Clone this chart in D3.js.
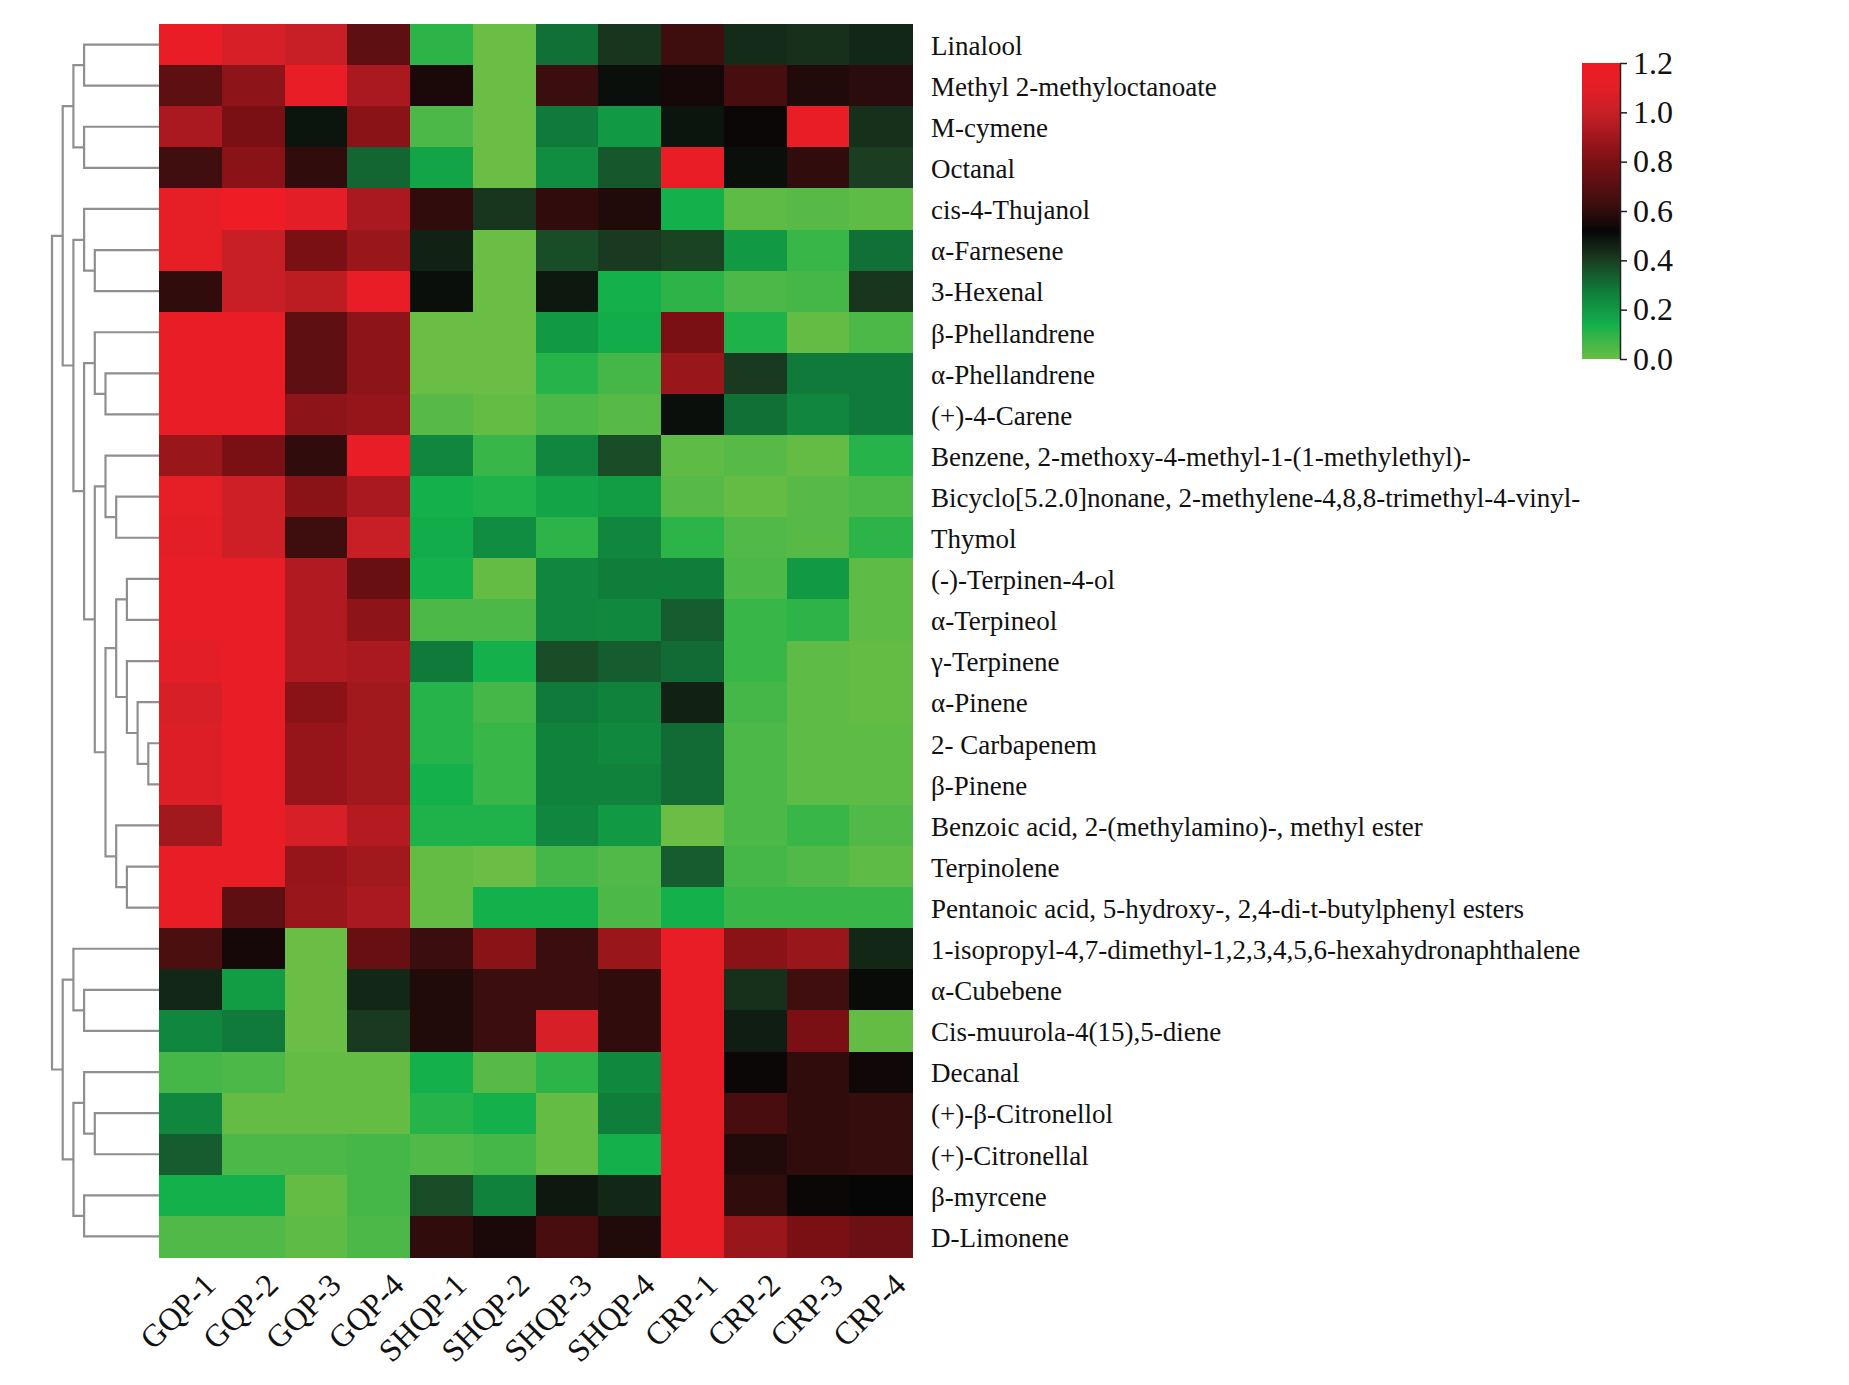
<!DOCTYPE html>
<html>
<head>
<meta charset="utf-8">
<script src="https://cdn.jsdelivr.net/npm/d3@7"></script>
<style>
  body { margin: 0; background: #fff; }
  text { font-family: "Liberation Serif", "Times New Roman", serif; fill: #111; }
</style>
</head>
<body>
<div id="chart"></div>
<script>
// sample columns
var samples = ["GQP-1", "GQP-2", "GQP-3", "GQP-4",
               "SHQP-1", "SHQP-2", "SHQP-3", "SHQP-4",
               "CRP-1", "CRP-2", "CRP-3", "CRP-4"];

// compounds, top to bottom (dendrogram order)
var compounds = ["Linalool", "Methyl 2-methyloctanoate", "M-cymene", "Octanal",
  "cis-4-Thujanol", "\u03b1-Farnesene", "3-Hexenal", "\u03b2-Phellandrene",
  "\u03b1-Phellandrene", "(+)-4-Carene", "Benzene, 2-methoxy-4-methyl-1-(1-methylethyl)-",
  "Bicyclo[5.2.0]nonane, 2-methylene-4,8,8-trimethyl-4-vinyl-", "Thymol",
  "(-)-Terpinen-4-ol", "\u03b1-Terpineol", "\u03b3-Terpinene", "\u03b1-Pinene",
  "2- Carbapenem", "\u03b2-Pinene", "Benzoic acid, 2-(methylamino)-, methyl ester",
  "Terpinolene", "Pentanoic acid, 5-hydroxy-, 2,4-di-t-butylphenyl esters",
  "1-isopropyl-4,7-dimethyl-1,2,3,4,5,6-hexahydronaphthalene", "\u03b1-Cubebene",
  "Cis-muurola-4(15),5-diene", "Decanal", "(+)-\u03b2-Citronellol", "(+)-Citronellal",
  "\u03b2-myrcene", "D-Limonene"];

// normalised content, one row per compound, columns as in samples
var values = [
  [1.15, 1.05, 1.00, 0.72, 0.10, 0.00, 0.30, 0.42, 0.63, 0.44, 0.43, 0.45],
  [0.72, 0.85, 1.15, 0.92, 0.56, 0.00, 0.62, 0.50, 0.55, 0.66, 0.57, 0.59],
  [0.92, 0.80, 0.49, 0.84, 0.05, 0.00, 0.28, 0.20, 0.49, 0.53, 1.15, 0.43],
  [0.64, 0.84, 0.60, 0.32, 0.17, 0.00, 0.23, 0.35, 1.15, 0.50, 0.60, 0.40],
  [1.12, 1.20, 1.10, 0.92, 0.60, 0.42, 0.60, 0.57, 0.14, 0.02, 0.03, 0.02],
  [1.12, 1.00, 0.80, 0.88, 0.46, 0.00, 0.37, 0.41, 0.39, 0.20, 0.08, 0.30],
  [0.60, 1.00, 0.97, 1.15, 0.50, 0.00, 0.48, 0.14, 0.10, 0.05, 0.06, 0.42],
  [1.15, 1.15, 0.72, 0.85, 0.00, 0.00, 0.20, 0.15, 0.80, 0.12, 0.01, 0.05],
  [1.15, 1.15, 0.72, 0.85, 0.00, 0.00, 0.11, 0.06, 0.88, 0.41, 0.28, 0.28],
  [1.15, 1.15, 0.85, 0.87, 0.03, 0.01, 0.05, 0.03, 0.50, 0.30, 0.25, 0.28],
  [0.88, 0.80, 0.60, 1.15, 0.25, 0.08, 0.25, 0.37, 0.02, 0.03, 0.01, 0.11],
  [1.12, 1.02, 0.84, 0.92, 0.14, 0.12, 0.17, 0.19, 0.03, 0.01, 0.03, 0.05],
  [1.10, 1.02, 0.63, 1.00, 0.15, 0.23, 0.10, 0.25, 0.10, 0.04, 0.03, 0.10],
  [1.15, 1.15, 0.94, 0.75, 0.14, 0.01, 0.25, 0.27, 0.27, 0.05, 0.20, 0.02],
  [1.15, 1.15, 0.94, 0.85, 0.05, 0.05, 0.25, 0.24, 0.34, 0.08, 0.10, 0.02],
  [1.10, 1.15, 0.94, 0.92, 0.28, 0.14, 0.37, 0.34, 0.31, 0.08, 0.02, 0.01],
  [1.05, 1.15, 0.84, 0.90, 0.11, 0.06, 0.28, 0.26, 0.46, 0.06, 0.02, 0.01],
  [1.07, 1.15, 0.87, 0.90, 0.11, 0.08, 0.26, 0.24, 0.31, 0.05, 0.02, 0.02],
  [1.07, 1.15, 0.87, 0.90, 0.14, 0.08, 0.26, 0.26, 0.31, 0.05, 0.02, 0.02],
  [0.90, 1.15, 1.05, 0.95, 0.12, 0.12, 0.25, 0.20, 0.00, 0.05, 0.08, 0.04],
  [1.15, 1.15, 0.87, 0.90, 0.01, 0.00, 0.06, 0.04, 0.34, 0.06, 0.04, 0.02],
  [1.15, 0.72, 0.88, 0.92, 0.01, 0.14, 0.14, 0.05, 0.14, 0.08, 0.08, 0.08],
  [0.67, 0.55, 0.00, 0.75, 0.62, 0.84, 0.62, 0.88, 1.15, 0.84, 0.88, 0.45],
  [0.45, 0.19, 0.00, 0.45, 0.57, 0.62, 0.62, 0.60, 1.15, 0.43, 0.64, 0.51],
  [0.25, 0.28, 0.00, 0.41, 0.57, 0.62, 1.05, 0.60, 1.15, 0.47, 0.80, 0.01],
  [0.06, 0.05, 0.01, 0.01, 0.14, 0.03, 0.10, 0.24, 1.15, 0.53, 0.60, 0.54],
  [0.25, 0.01, 0.01, 0.01, 0.11, 0.14, 0.01, 0.27, 1.15, 0.66, 0.60, 0.61],
  [0.34, 0.05, 0.05, 0.06, 0.04, 0.06, 0.01, 0.14, 1.15, 0.57, 0.60, 0.61],
  [0.14, 0.14, 0.01, 0.06, 0.37, 0.26, 0.48, 0.45, 1.15, 0.60, 0.53, 0.52],
  [0.04, 0.04, 0.02, 0.05, 0.60, 0.56, 0.66, 0.57, 1.15, 0.88, 0.80, 0.76]
];

// row clustering, linkage style: [child a, child b, merge height]; leaves 0-29, clusters from 30
var merges = [
  [0, 1, 7], [2, 3, 7], [30, 31, 8], [5, 6, 6], [4, 33, 7],
  [8, 9, 5], [7, 35, 6], [11, 12, 4], [10, 37, 5], [13, 14, 3],
  [17, 18, 1], [16, 40, 2], [15, 41, 3], [39, 42, 4], [20, 21, 3],
  [19, 44, 4], [43, 45, 5], [38, 46, 6], [36, 47, 7], [34, 48, 8],
  [32, 49, 9], [23, 24, 7], [22, 51, 8], [26, 27, 6], [25, 53, 7],
  [28, 29, 7], [54, 55, 8], [52, 56, 9], [50, 57, 10]
];

// colour key
var keyTicks = [0, 0.2, 0.4, 0.6, 0.8, 1.0, 1.2];
var colorStops = [0, 0.14, 0.28, 0.4, 0.52, 0.62, 0.8, 1.0, 1.1, 1.2];
var colorRange = ["#6abd45", "#13b04b", "#0f7a3a", "#1b3e22", "#060606",
                  "#3a0e0e", "#7a1014", "#c81f26", "#e41e26", "#ee1c25"];

var W = 1849, H = 1385;
var hmLeft = 159, hmRight = 912, hmTop = 24, hmBottom = 1257;

var svg = d3.select("#chart").append("svg")
    .attr("width", W)
    .attr("height", H)
    .style("background", "#fff");

var x = d3.scaleBand().domain(d3.range(samples.length)).range([hmLeft, hmRight]);
var y = d3.scaleBand().domain(d3.range(compounds.length)).range([hmTop, hmBottom]);
var color = d3.scaleLinear().domain(colorStops).range(colorRange).clamp(true);

// cells
var cells = [];
values.forEach(function(row, i) {
    row.forEach(function(v, j) { cells.push({r: i, c: j, v: v}); });
});

svg.append("g").selectAll("rect")
    .data(cells)
    .join("rect")
    .attr("x", function(d) { return x(d.c); })
    .attr("y", function(d) { return y(d.r); })
    .attr("width", x.bandwidth() + 0.6)
    .attr("height", y.bandwidth() + 0.6)
    .attr("fill", function(d) { return color(d.v); })
    .attr("shape-rendering", "crispEdges");

// row labels
svg.append("g").selectAll("text")
    .data(compounds)
    .join("text")
    .attr("x", hmRight + 19)
    .attr("y", function(d, i) { return y(i) + y.bandwidth() / 2; })
    .attr("dy", "0.38em")
    .style("font-size", "27px")
    .text(function(d) { return d; });

// column labels
svg.append("g").selectAll("text")
    .data(samples)
    .join("text")
    .attr("text-anchor", "end")
    .attr("transform", function(d, i) {
        return "translate(" + (x(i) + x.bandwidth() / 2 + 27) + "," + (hmBottom + 30) + ")rotate(-45)";
    })
    .style("font-size", "32px")
    .text(function(d) { return d; });

// dendrogram
var hx = d3.scaleLinear().domain([0, 10]).range([hmLeft, 52]);
var nodes = compounds.map(function(d, i) {
    return {y: y(i) + y.bandwidth() / 2, h: 0};
});
var links = [];
merges.forEach(function(m) {
    var a = nodes[m[0]], b = nodes[m[1]];
    links.push({a: a, b: b, h: m[2]});
    nodes.push({y: (a.y + b.y) / 2, h: m[2]});
});

svg.append("g")
    .attr("fill", "none")
    .attr("stroke", "#8f8f8f")
    .attr("stroke-width", 2.2)
    .selectAll("path")
    .data(links)
    .join("path")
    .attr("d", function(d) {
        return "M" + hx(d.a.h) + "," + d.a.y + "H" + hx(d.h) + "V" + d.b.y + "H" + hx(d.b.h);
    });

// colour key
var kx = 1582, kw = 38, ky0 = 63, ky1 = 359;
var ky = d3.scaleLinear().domain([0, 1.2]).range([ky1, ky0]);

var grad = svg.append("defs").append("linearGradient")
    .attr("id", "keygrad")
    .attr("x1", 0).attr("y1", 1).attr("x2", 0).attr("y2", 0);
grad.selectAll("stop")
    .data(d3.range(0, 1.2001, 0.02))
    .join("stop")
    .attr("offset", function(d) { return d / 1.2; })
    .attr("stop-color", function(d) { return color(d); });

svg.append("rect")
    .attr("x", kx)
    .attr("y", ky0)
    .attr("width", kw)
    .attr("height", ky1 - ky0)
    .attr("fill", "url(#keygrad)");

var keyAxis = svg.append("g")
    .attr("transform", "translate(" + (kx + kw) + ",0)")
    .call(d3.axisRight(ky)
        .tickValues(keyTicks)
        .tickFormat(d3.format(".1f"))
        .tickSize(7)
        .tickSizeOuter(0)
        .tickPadding(6));
keyAxis.select(".domain").attr("stroke", "#222").attr("stroke-width", 1.5);
keyAxis.selectAll(".tick line").attr("stroke", "#222").attr("stroke-width", 1.5);
keyAxis.selectAll(".tick text")
    .style("font-family", "'Liberation Serif', 'Times New Roman', serif")
    .style("font-size", "32px")
    .attr("fill", "#111");
</script>
</body>
</html>
